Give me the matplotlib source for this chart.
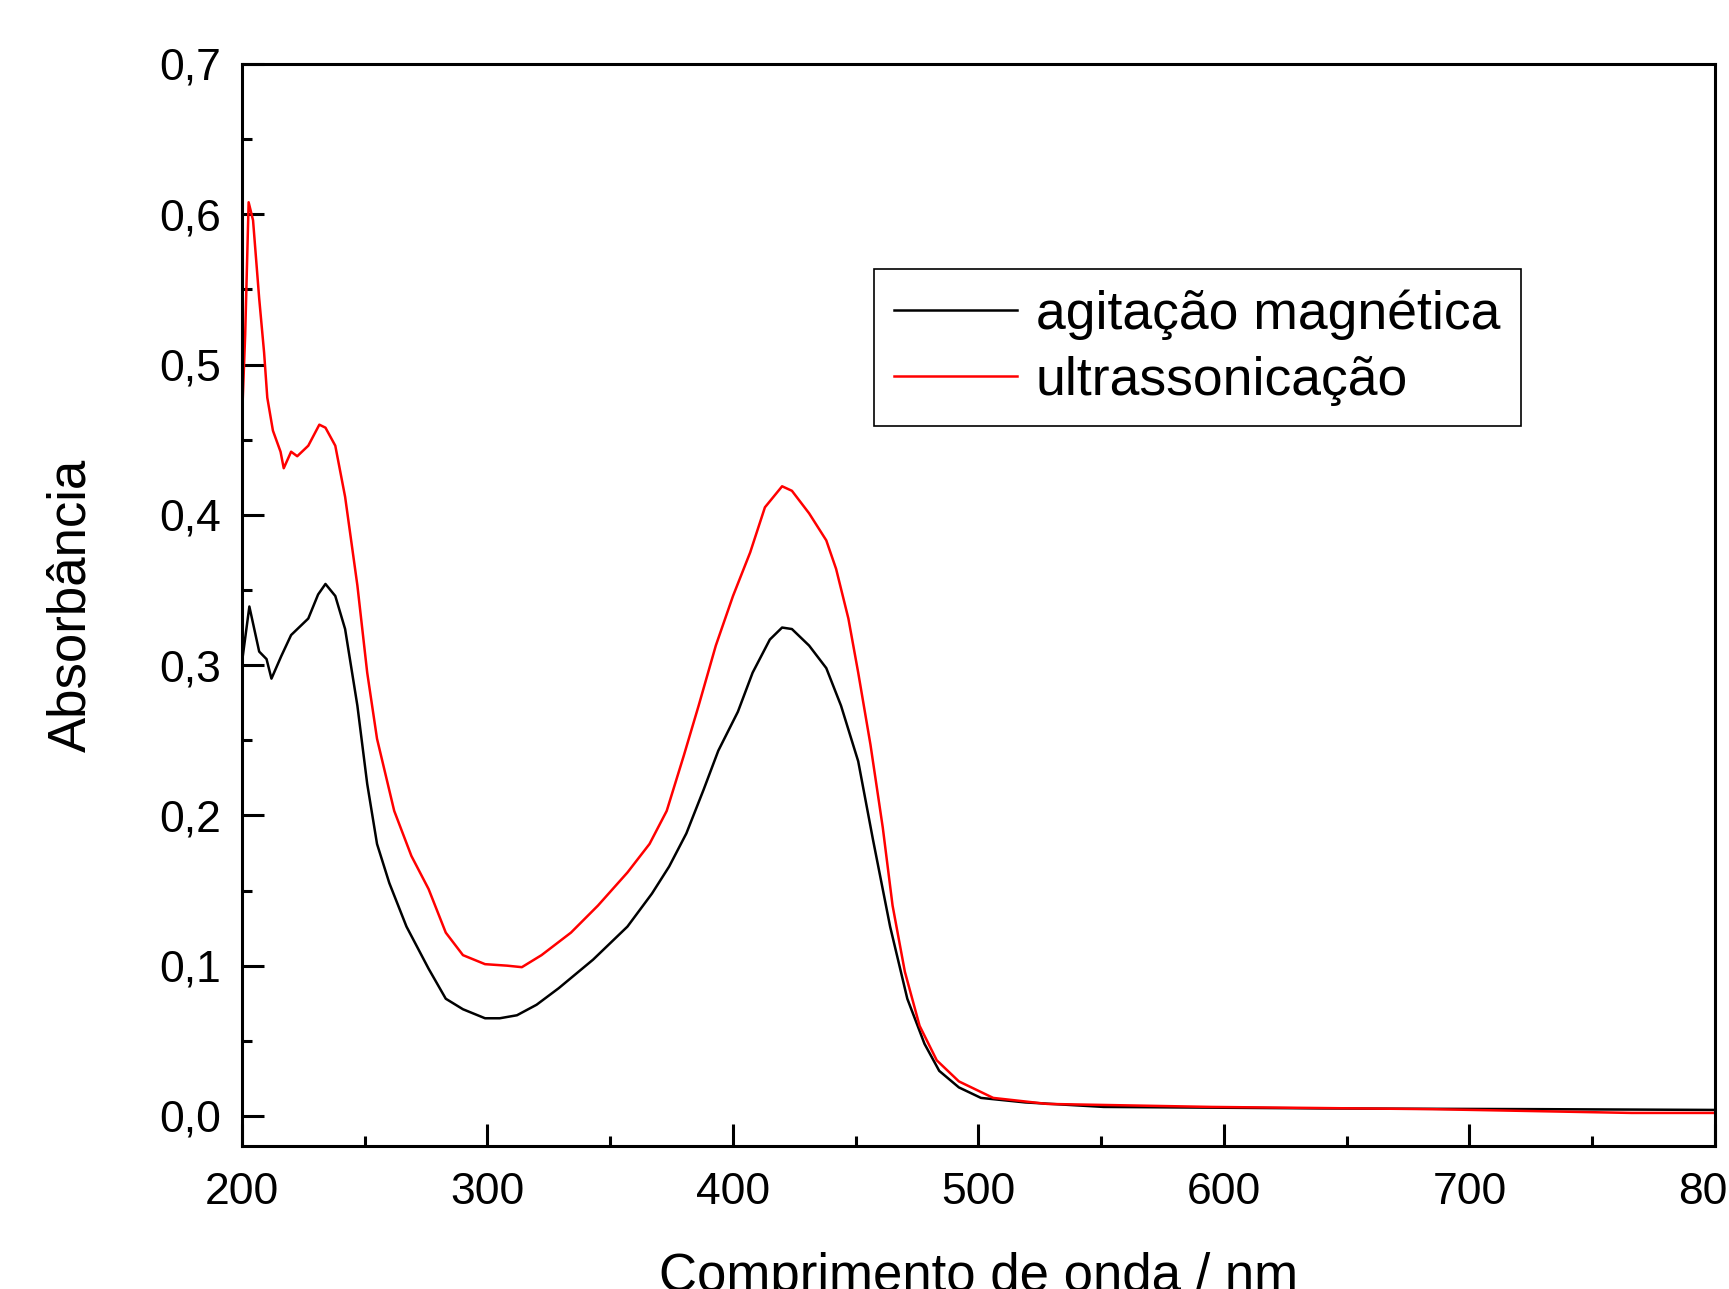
import numpy as np
from matplotlib import pyplot as plt
from matplotlib.ticker import MultipleLocator, FuncFormatter

plt.rcParams["font.family"] = ["Liberation Sans", "DejaVu Sans"]

# agitação magnética (black)
wl_agit = [200, 203, 207, 210, 212, 216, 220, 227, 231, 234, 238, 242, 247, 251, 255,
           260, 267, 276, 283, 290, 299, 305, 312, 320, 329, 343, 357, 367, 374, 381,
           388, 394, 402, 408, 415, 420, 424, 431, 438, 444, 451, 457, 464, 471, 478,
           484, 492, 501, 519, 551, 640, 730, 800]
abs_agit = [0.302, 0.339, 0.309, 0.304, 0.291, 0.306, 0.320, 0.331, 0.347, 0.354, 0.346,
            0.324, 0.273, 0.221, 0.181, 0.155, 0.126, 0.098, 0.078, 0.071, 0.065, 0.065,
            0.067, 0.074, 0.085, 0.104, 0.126, 0.148, 0.166, 0.188, 0.217, 0.243, 0.269,
            0.295, 0.317, 0.325, 0.324, 0.313, 0.298, 0.273, 0.236, 0.184, 0.126, 0.078,
            0.048, 0.030, 0.019, 0.012, 0.009, 0.006, 0.005, 0.0045, 0.004]

# ultrassonicação (red)
wl_ultra = [200, 201.3, 202.7, 204.5, 207, 209, 210.3, 212.6, 215.7, 217, 220, 222.5, 227,
            231.5, 234, 238, 242, 247, 251, 255, 262, 269, 276, 283, 290, 299, 308, 314,
            322, 334, 345, 357, 366, 373, 380, 386, 393, 400, 407, 413, 420, 424, 431,
            438, 442, 447, 451, 456, 461, 465, 470, 476, 483, 492, 506, 528, 595, 685,
            766, 800]
abs_ultra = [0.464, 0.52, 0.608, 0.596, 0.544, 0.508, 0.478, 0.456, 0.442, 0.431, 0.442,
             0.439, 0.446, 0.460, 0.458, 0.446, 0.412, 0.353, 0.295, 0.251, 0.203, 0.173,
             0.151, 0.122, 0.107, 0.101, 0.100, 0.099, 0.107, 0.122, 0.140, 0.162, 0.181,
             0.203, 0.240, 0.273, 0.313, 0.346, 0.375, 0.405, 0.419, 0.416, 0.401, 0.383,
             0.364, 0.331, 0.295, 0.247, 0.192, 0.140, 0.096, 0.060, 0.037, 0.023, 0.012,
             0.008, 0.006, 0.0045, 0.002, 0.002]

fig = plt.figure(figsize=(17.29, 12.89), dpi=100)
ax = fig.add_axes([242 / 1729, 1 - 1146 / 1289, (1715 - 242) / 1729, (1146 - 64) / 1289])

ax.plot(wl_agit, abs_agit, color="black", lw=1.8, label="agitação magnética")
ax.plot(wl_ultra, abs_ultra, color="red", lw=1.8, label="ultrassonicação")

ax.set_xlim(200, 800)
ax.set_ylim(-0.02, 0.7)
ax.xaxis.set_major_locator(MultipleLocator(100))
ax.xaxis.set_minor_locator(MultipleLocator(50))
ax.yaxis.set_major_locator(MultipleLocator(0.1))
ax.yaxis.set_minor_locator(MultipleLocator(0.05))
ax.yaxis.set_major_formatter(FuncFormatter(lambda v, _: f"{v:.1f}".replace(".", ",")))

for s in ax.spines.values():
    s.set_linewidth(2.2)
ax.tick_params(which="both", direction="in", width=2.2, top=False, right=False)
ax.tick_params(which="major", length=16, labelsize=32)
ax.tick_params(axis="x", which="major", pad=19)
ax.tick_params(axis="y", which="major", pad=15)
ax.tick_params(which="minor", length=7)

ax.set_xlabel("Comprimento de onda / nm", fontsize=38, labelpad=28)
ax.set_ylabel("Absorbância", fontsize=38, labelpad=45)

leg = ax.legend(loc="upper left", bbox_to_anchor=(0.429, 0.8105), borderaxespad=0,
                fontsize=38.5, fancybox=False, edgecolor="black", framealpha=1,
                handlelength=2.3, handletextpad=0.35, labelspacing=0.3, borderpad=0.38)
leg.get_frame().set_linewidth(1.2)

fig.savefig("out.png", dpi=100)
